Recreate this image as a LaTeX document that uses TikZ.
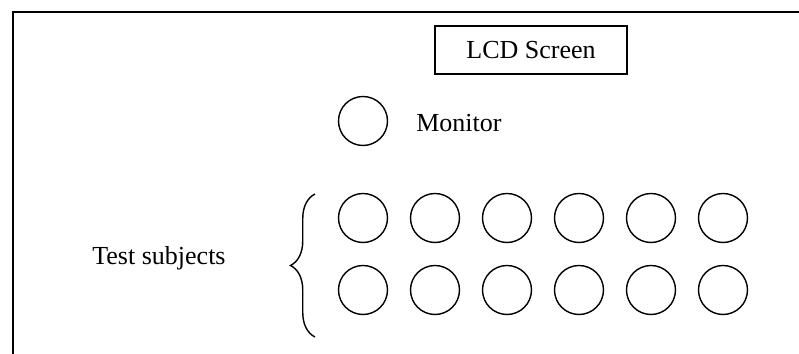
\documentclass[tikz,border=0pt]{standalone}
\usepackage{fontspec}
\setmainfont{Liberation Serif}
\usepackage{xcolor}
\usetikzlibrary{positioning, decorations.pathreplacing}

\tikzset{
  seat/.style={draw=black, line width=0.8pt, circle, minimum size=0.98cm, inner sep=0pt},
  label/.style={font=\fontsize{14.8}{18}\selectfont, inner sep=0pt}
}

\begin{document}
\begin{tikzpicture}
  \useasboundingbox (0,0) rectangle (15.98,7.08);
  % Room outline
  \draw[line width=1.3pt] (0.26,0) -- (0.26,6.84) -- (15.98,6.84);

  % Screen
  \draw[line width=0.8pt] (8.70,5.60) rectangle (12.54,6.56);
  \node[label] (lcd) at (10.62,6.08) {LCD Screen};

  % Monitor
  \node[seat] (mon) at (7.26,4.66) {};
  \node[label, anchor=base west] (montext) at (8.32,4.44) {Monitor};

  % Test subjects, front row
  \node[seat] (s1) at (7.26,2.72) {};
  \node[seat] (s2) at (8.70,2.72) {};
  \node[seat] (s3) at (10.14,2.72) {};
  \node[seat] (s4) at (11.58,2.72) {};
  \node[seat] (s5) at (13.02,2.72) {};
  \node[seat] (s6) at (14.46,2.72) {};
  % Test subjects, back row
  \node[seat] (s7) at (7.26,1.28) {};
  \node[seat] (s8) at (8.70,1.28) {};
  \node[seat] (s9) at (10.14,1.28) {};
  \node[seat] (s10) at (11.58,1.28) {};
  \node[seat] (s11) at (13.02,1.28) {};
  \node[seat] (s12) at (14.46,1.28) {};

  % Brace and label
  \coordinate (bracebot) at (6.30,0.34);
  \coordinate (bracetop) at (6.30,3.20);
  \draw[line width=0.8pt, decorate, decoration={brace, amplitude=0.49cm, aspect=0.5}] (bracebot) -- (bracetop);
  \node[label, anchor=base west] (subjects) at (1.84,1.78) {Test subjects};
\end{tikzpicture}
\end{document}
